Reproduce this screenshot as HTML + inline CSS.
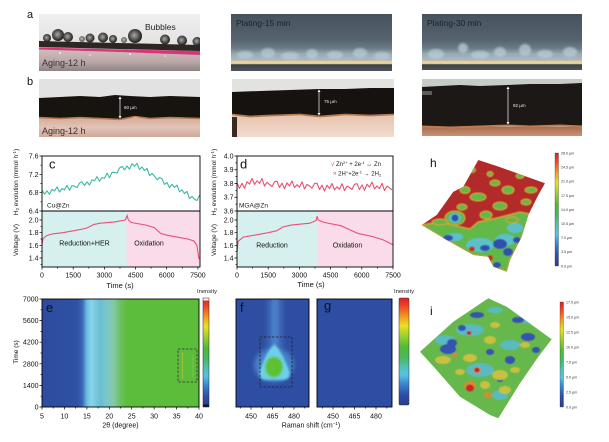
<!DOCTYPE html>
<html><head><meta charset="utf-8"><style>
html,body{margin:0;padding:0;background:#fff;}
svg{display:block;font-family:"Liberation Sans",Arial,sans-serif;}
</style></head><body>
<svg width="609" height="442" viewBox="0 0 609 442" xmlns="http://www.w3.org/2000/svg">
<defs>
 <filter id="b05" x="-30%" y="-30%" width="160%" height="160%"><feGaussianBlur stdDeviation="0.6"/></filter>
 <filter id="b1" x="-30%" y="-30%" width="160%" height="160%"><feGaussianBlur stdDeviation="1.1"/></filter>
 <filter id="b2" x="-50%" y="-50%" width="200%" height="200%"><feGaussianBlur stdDeviation="2.2"/></filter>
 <linearGradient id="jet" x1="0" y1="0" x2="0" y2="1">
  <stop offset="0" stop-color="#d82020"/><stop offset="0.08" stop-color="#f04828"/>
  <stop offset="0.18" stop-color="#f0a020"/><stop offset="0.26" stop-color="#e8e020"/>
  <stop offset="0.36" stop-color="#98d030"/><stop offset="0.46" stop-color="#50b838"/>
  <stop offset="0.56" stop-color="#48b860"/><stop offset="0.64" stop-color="#50c0b0"/>
  <stop offset="0.72" stop-color="#58c0e8"/><stop offset="0.80" stop-color="#3a88d0"/>
  <stop offset="0.90" stop-color="#3050a8"/><stop offset="1" stop-color="#2a3c90"/>
 </linearGradient>
 <linearGradient id="heatE" gradientUnits="userSpaceOnUse" x1="42" y1="0" x2="199" y2="0">
  <stop offset="0" stop-color="#2d4c9f"/><stop offset="0.225" stop-color="#2f50a4"/>
  <stop offset="0.257" stop-color="#3a68b8"/><stop offset="0.286" stop-color="#6bbde0"/>
  <stop offset="0.314" stop-color="#8ad4ea"/><stop offset="0.343" stop-color="#78c8de"/>
  <stop offset="0.371" stop-color="#6cbdd2"/><stop offset="0.414" stop-color="#7ac8c8"/>
  <stop offset="0.457" stop-color="#84c8a4"/><stop offset="0.5" stop-color="#6cc060"/>
  <stop offset="0.543" stop-color="#5cbd3c"/><stop offset="1" stop-color="#5cbd3a"/>
 </linearGradient>
 <radialGradient id="bub" cx="0.45" cy="0.45" r="0.55">
  <stop offset="0" stop-color="#a8a8a8"/><stop offset="0.55" stop-color="#5a5a5a"/><stop offset="1" stop-color="#1c1c1c"/>
 </radialGradient>
 <linearGradient id="ga1" x1="0" y1="0" x2="0" y2="1">
  <stop offset="0" stop-color="#efefef"/><stop offset="1" stop-color="#d8d8d8"/>
 </linearGradient>
 <linearGradient id="ga1b" x1="0" y1="0" x2="0" y2="1">
  <stop offset="0" stop-color="#d4c0c0"/><stop offset="0.6" stop-color="#bca8a8"/><stop offset="1" stop-color="#8e8484"/>
 </linearGradient>
 <linearGradient id="ga2" gradientUnits="userSpaceOnUse" x1="0" y1="14" x2="0" y2="71">
  <stop offset="0" stop-color="#46525e"/><stop offset="0.45" stop-color="#56636e"/>
  <stop offset="0.6" stop-color="#6a7b88"/><stop offset="0.7" stop-color="#98aab4"/>
  <stop offset="0.8" stop-color="#aab8c0"/><stop offset="0.84" stop-color="#e0c890"/>
  <stop offset="0.87" stop-color="#f0d8a0"/><stop offset="0.89" stop-color="#3c4248"/>
  <stop offset="1" stop-color="#4e5660"/>
 </linearGradient>
 <linearGradient id="gb1" x1="0" y1="0" x2="0" y2="1">
  <stop offset="0" stop-color="#d6ac9a"/><stop offset="0.5" stop-color="#e2c4b8"/><stop offset="1" stop-color="#cfa898"/>
 </linearGradient>
 <linearGradient id="gb2" x1="0" y1="0" x2="0" y2="1">
  <stop offset="0" stop-color="#e8c4b0"/><stop offset="1" stop-color="#f2dcd0"/>
 </linearGradient>
 <linearGradient id="gb3" x1="0" y1="0" x2="0" y2="1">
  <stop offset="0" stop-color="#a86c4c"/><stop offset="1" stop-color="#c89274"/>
 </linearGradient>
 <clipPath id="ca1"><rect x="39" y="14" width="161" height="57"/></clipPath>
 <clipPath id="ca2"><rect x="231" y="14" width="161" height="57"/></clipPath>
 <clipPath id="ca3"><rect x="422" y="14" width="160" height="56"/></clipPath>
 <clipPath id="cb1"><rect x="39" y="79" width="161" height="58"/></clipPath>
 <clipPath id="cb2"><rect x="232" y="79" width="162" height="58"/></clipPath>
 <clipPath id="cb3"><rect x="422" y="79" width="160" height="57"/></clipPath>
 <clipPath id="cf"><rect x="236" y="299" width="73" height="108"/></clipPath>
 <clipPath id="ch"><polygon points="478.3,160 496.7,166 545,183.3 538.3,195 528.3,215 521.7,236.7 510,260 506.7,271.7 493.3,266.7 488.3,256.7 473.3,255 446.7,240 421.7,225 436.7,215 453.3,191.7 463.3,186.7"/></clipPath>
 <clipPath id="ci"><polygon points="488.3,298.3 506.7,306.7 551.7,339.3 538.3,356.7 520,383.3 498.3,418.3 490,415 460,396.7 435,368.3 420,351.7 453.3,321.7"/></clipPath>
</defs>

<!-- ========== Panel a ========== -->
<text x="27" y="18" font-size="11" fill="#111">a</text>
<text x="27" y="85" font-size="11" fill="#111">b</text>

<g clip-path="url(#ca1)">
 <rect x="39" y="14" width="161" height="57" fill="url(#ga1)"/>
 <polygon points="39,47 200,51 200,71 39,71" fill="url(#ga1b)"/>
 <polygon points="39,47.5 120,49.5 200,51 200,55 120,52 39,49.5" fill="#d8206e" opacity="0.85"/>
 <polygon points="39,41 200,45 200,51 39,47" fill="#2e2622"/>
 <circle cx="47" cy="38" r="4" fill="url(#bub)"/>
 <circle cx="58" cy="35" r="6" fill="url(#bub)"/>
 <circle cx="68" cy="37" r="5" fill="url(#bub)"/>
 <circle cx="82" cy="39" r="3" fill="url(#bub)" opacity="0.7"/>
 <circle cx="90" cy="38" r="4.5" fill="url(#bub)"/>
 <circle cx="103" cy="37.5" r="5" fill="url(#bub)"/>
 <circle cx="113" cy="39" r="4" fill="url(#bub)"/>
 <circle cx="124" cy="40" r="3" fill="url(#bub)" opacity="0.7"/>
 <circle cx="135" cy="36" r="7" fill="url(#bub)"/>
 <circle cx="165" cy="39.5" r="5" fill="url(#bub)"/>
 <circle cx="182" cy="40.5" r="5" fill="url(#bub)"/>
 <circle cx="197" cy="41.5" r="4.5" fill="url(#bub)"/>
 <g fill="#fff" opacity="0.8"><circle cx="60" cy="53" r="1"/><circle cx="90" cy="55" r="0.8"/><circle cx="130" cy="54" r="1"/><circle cx="165" cy="56" r="0.8"/></g>
 <text x="145" y="30" font-size="8.5" fill="#222">Bubbles</text>
 <text x="42" y="66" font-size="9" fill="#333">Aging-12 h</text>
</g>

<g clip-path="url(#ca2)">
 <rect x="231" y="14" width="161" height="57" fill="url(#ga2)"/>
 <g filter="url(#b1)" fill="#b8ccd8" opacity="0.7">
  <ellipse cx="245" cy="55" rx="8" ry="4"/><ellipse cx="268" cy="53" rx="7" ry="5"/>
  <ellipse cx="290" cy="56" rx="9" ry="4"/><ellipse cx="312" cy="54" rx="6" ry="5"/>
  <ellipse cx="335" cy="55" rx="8" ry="4"/><ellipse cx="360" cy="53" rx="7" ry="5"/>
  <ellipse cx="382" cy="56" rx="8" ry="4"/>
 </g>
 <rect x="231" y="61" width="161" height="2" fill="#ecd09a"/>
 <text x="236" y="26" font-size="8.5" fill="#1e2226">Plating-15 min</text>
</g>

<g clip-path="url(#ca3)">
 <rect x="422" y="14" width="160" height="56" fill="url(#ga2)"/>
 <g filter="url(#b1)" fill="#b8ccd8" opacity="0.75">
  <ellipse cx="436" cy="54" rx="8" ry="5"/><ellipse cx="463" cy="48" rx="5" ry="5"/>
  <ellipse cx="480" cy="55" rx="9" ry="4"/><ellipse cx="500" cy="52" rx="6" ry="5"/>
  <ellipse cx="525" cy="50" rx="6" ry="6"/><ellipse cx="545" cy="54" rx="8" ry="4"/>
  <ellipse cx="570" cy="52" rx="7" ry="5"/>
 </g>
 <rect x="422" y="61" width="160" height="2" fill="#ecd09a"/>
 <text x="427" y="26" font-size="8.5" fill="#1e2226">Plating-30 min</text>
</g>

<!-- ========== Panel b ========== -->
<g clip-path="url(#cb1)">
 <rect x="39" y="79" width="161" height="58" fill="#e2e2e2"/>
 <rect x="39" y="118" width="161" height="19" fill="url(#gb1)"/>
 <polygon points="39,98 60,97 80,96 100,97 115,95 130,96 150,97 170,96 200,97 200,118 170,117 150,118 135,116 120,119 100,118 80,117 60,118 39,117" fill="#17130f"/>
 <polyline points="39,117.5 60,118.5 80,117.5 100,118.5 120,119.5 135,116.5 150,118.5 170,117.5 200,118.5" fill="none" stroke="#b07850" stroke-width="1.6"/>
 <line x1="120" y1="97" x2="120" y2="118" stroke="#fff" stroke-width="0.7"/>
 <polygon points="118.5,99 121.5,99 120,96.5" fill="#fff"/><polygon points="118.5,116 121.5,116 120,118.5" fill="#fff"/>
 <text x="124" y="109" font-size="4.5" fill="#eee">60 µm</text>
 <text x="42" y="134" font-size="9" fill="#3a3030">Aging-12 h</text>
</g>

<g clip-path="url(#cb2)">
 <rect x="232" y="79" width="162" height="58" fill="#e2e2e0"/>
 <rect x="232" y="116" width="162" height="21" fill="url(#gb2)"/>
 <polygon points="232,92 260,91 290,90 319,89 345,89 370,88 394,88 394,114 370,115 345,114 320,116 300,114 270,115 250,116 232,114" fill="#15120f"/>
 <polyline points="232,114.5 250,116.5 270,115.5 300,114.5 320,116.5 345,114.5 370,115.5 394,114.5" fill="none" stroke="#b07850" stroke-width="1.8"/>
 <rect x="232" y="117" width="5" height="20" fill="#3a2a20"/>
 <line x1="319" y1="90" x2="319" y2="115" stroke="#fff" stroke-width="0.7"/>
 <polygon points="317.5,92 320.5,92 319,89.5" fill="#fff"/><polygon points="317.5,113 320.5,113 319,115.5" fill="#fff"/>
 <text x="324" y="103" font-size="4.5" fill="#eee">75 µm</text>
</g>

<g clip-path="url(#cb3)">
 <rect x="422" y="79" width="160" height="57" fill="#c6ccc8"/>
 <rect x="422" y="127" width="160" height="9" fill="url(#gb3)"/>
 <polygon points="422,87 440,86 460,85 480,86 507,85 530,84 560,84 582,83 582,126 560,125 530,126 507,125 480,126 450,127 422,126" fill="#1b1815"/>
 <polyline points="422,126.5 450,127.5 480,126.5 507,125.5 530,126.5 560,125.5 582,126.5" fill="none" stroke="#c07a50" stroke-width="2"/>
 <rect x="422" y="91" width="10" height="4" fill="#888c88" opacity="0.6"/>
 <line x1="508" y1="87" x2="508" y2="124" stroke="#fff" stroke-width="0.7"/>
 <polygon points="506.5,89 509.5,89 508,86.5" fill="#fff"/><polygon points="506.5,122 509.5,122 508,124.5" fill="#fff"/>
 <text x="513" y="107" font-size="4.5" fill="#eee">92 µm</text>
</g>

<!-- ========== Panel c ========== -->
<rect x="42" y="211" width="84.5" height="56" fill="#d5f0ee"/>
<rect x="126.5" y="211" width="73.5" height="56" fill="#fadbe9"/>
<path fill="none" stroke="#3db8a6" stroke-width="1.1" stroke-linejoin="round" d="M42,190.2 L44.5,194.2 47,190.8 49.5,194.3 52,189.4 54.5,190.9 57,186.9 59.5,192 62,188.5 64.5,189.9 67,185.4 69.5,190.3 72,185.7 74.5,186.1 77,187.6 79.5,183 82,181.9 84.5,185.6 87,181.8 89.5,185 92,179.7 94.5,180.9 97,176.6 99.5,181.3 102,177.5 104.5,178.4 107,173.2 109.5,177.6 112,172.4 114.5,172.3 117,173.1 119.5,168 122,166.3 124.5,169.9 127,166 129.5,169.1 132,163.7 134.5,166.3 137,163.3 139.5,169.4 142,167 144.5,170.7 147,168.4 149.5,175.6 152,173.4 154.5,176.1 157,179.8 159.5,177.5 162,178.7 164.5,184.4 167,182.5 169.5,187.7 172,184.3 174.5,187.4 177,185.1 179.5,191.7 182,189.9 184.5,193.6 187,191.4 189.5,198.6 192,196.4 194.5,199.2 197,200.5 199.5,195.2"/>
<polyline fill="none" stroke="#e8507a" stroke-width="1.1" points="42,244.1 43,239 46.2,235.8 52.4,233.9 62.8,232.7 73.2,230.8 83.6,228.9 87.7,227.6 94,224.4 100.2,223.2 114.8,221.9 125.2,220 127.2,215.6 128.3,220 131.4,222.5 146,225.1 154.3,227.6 160.5,233.3 166.7,235.2 177.1,237.1 187.5,239 193.8,240.9 196.9,245.3 199,259.2"/>
<rect x="42" y="156" width="158" height="111" fill="none" stroke="#000" stroke-width="0.9"/>
<line x1="42" y1="211" x2="200" y2="211" stroke="#000" stroke-width="0.9"/>
<g stroke="#000" stroke-width="0.7">
 <path d="M42,156h-2.5M42,174.3h-2.5M42,192.7h-2.5M42,211h-2.5M42,165.2h-1.5M42,183.5h-1.5M42,201.8h-1.5"/>
 <path d="M42,220h-2.5M42,232.7h-2.5M42,245.3h-2.5M42,258h-2.5M42,226.3h-1.5M42,239h-1.5M42,251.7h-1.5M42,264.3h-1.5"/>
 <path d="M42,267v2.5M73.2,267v2.5M104.4,267v2.5M135.6,267v2.5M166.7,267v2.5M197.9,267v2.5M57.6,267v1.5M88.8,267v1.5M120,267v1.5M151.1,267v1.5M182.3,267v1.5"/>
</g>
<g font-size="7" fill="#111" text-anchor="end">
 <text x="38.5" y="158.5">7.6</text><text x="38.5" y="176.8">7.2</text><text x="38.5" y="195.2">6.8</text><text x="38.5" y="213.5">6.4</text>
 <text x="38.5" y="222.5">2.0</text><text x="38.5" y="235.2">1.8</text><text x="38.5" y="247.8">1.6</text><text x="38.5" y="260.5">1.4</text>
</g>
<g font-size="7" fill="#111" text-anchor="middle">
 <text x="42" y="277.5">0</text><text x="73.2" y="277.5">1500</text><text x="104.4" y="277.5">3000</text><text x="135.6" y="277.5">4500</text><text x="166.7" y="277.5">6000</text><text x="197.9" y="277.5">7500</text>
 <text x="120" y="288" font-size="7.5">Time (s)</text>
 <text x="84.5" y="245.5">Reduction+HER</text>
 <text x="149" y="245.5">Oxidation</text>
</g>
<text x="49" y="168.5" font-size="13" fill="#111">c</text>
<text x="47" y="207.5" font-size="6.5" fill="#222">Cu@Zn</text>
<g font-size="6.5" fill="#222" text-anchor="middle">
 <text transform="translate(18,240) rotate(-90)">Voltage (V)</text>
 <text transform="translate(18,182) rotate(-90)">H<tspan font-size="4.5" dy="1">2</tspan><tspan dy="-1"> evolution (mmol h</tspan><tspan font-size="4.5" dy="-2">-1</tspan><tspan dy="2">)</tspan></text>
</g>

<!-- ========== Panel d ========== -->
<rect x="237" y="211" width="80" height="56" fill="#d5f0ee"/>
<rect x="317" y="211" width="76" height="56" fill="#fadbe9"/>
<path fill="none" stroke="#e8506e" stroke-width="1.1" stroke-linejoin="round" d="M237,183 L239.5,188.4 242,183.3 244.5,188.3 247,181.7 249.5,184.1 252,178.5 254.5,184.4 257,180.8 259.5,183.4 262,178.5 264.5,186.1 267,182.3 269.5,184.4 272,186.6 274.5,181.7 277,181.3 279.5,187.5 282,183.1 284.5,188.7 287,182.9 289.5,186 292,181 294.5,187.6 297,184.7 299.5,187.2 302,181.8 304.5,188.9 307,184.4 309.5,186 312,188.2 314.5,183.5 317,183.2 319.5,189.5 322,185.2 324.5,191 327,185.2 329.5,188.5 332,183.5 334.5,189.9 337,186.8 339.5,189.2 342,183.7 344.5,190.6 347,186.1 349.5,187.5 352,189.4 354.5,184.3 357,183.7 359.5,189.5 362,184.9 364.5,190.3 367,184.2 369.5,187 372,182.1 374.5,188.8 377,186 379.5,188.6 382,183.3 384.5,190.5 387,186.1 389.5,187.8 392,189.9"/>
<polyline fill="none" stroke="#e8507a" stroke-width="1.1" points="237,251.7 238,241.5 243.2,237.1 257.8,234.6 268.2,232.7 276.5,230.8 282.8,227 291.1,225.1 309.8,223.2 316,220.6 317.1,216.2 318.1,220 324.4,222.5 341,225.7 349.3,229.5 357.6,233.3 372.2,236.5 382.6,239.6 393,244.7"/>
<rect x="237" y="156" width="156" height="111" fill="none" stroke="#000" stroke-width="0.9"/>
<line x1="237" y1="211" x2="393" y2="211" stroke="#000" stroke-width="0.9"/>
<g stroke="#000" stroke-width="0.7">
 <path d="M237,156h-2.5M237,169.75h-2.5M237,183.5h-2.5M237,197.25h-2.5M237,211h-2.5M237,162.9h-1.5M237,176.6h-1.5M237,190.4h-1.5M237,204.1h-1.5"/>
 <path d="M237,220h-2.5M237,232.7h-2.5M237,245.3h-2.5M237,258h-2.5M237,226.3h-1.5M237,239h-1.5M237,251.7h-1.5M237,264.3h-1.5"/>
 <path d="M237,267v2.5M268.2,267v2.5M299.4,267v2.5M330.6,267v2.5M361.8,267v2.5M393,267v2.5M252.6,267v1.5M283.8,267v1.5M315,267v1.5M346.2,267v1.5M377.4,267v1.5"/>
</g>
<g font-size="7" fill="#111" text-anchor="end">
 <text x="233.5" y="158.5">4.0</text><text x="233.5" y="172.2">3.9</text><text x="233.5" y="186">3.8</text><text x="233.5" y="199.7">3.7</text><text x="233.5" y="213.5">3.6</text>
 <text x="233.5" y="222.5">2.0</text><text x="233.5" y="235.2">1.8</text><text x="233.5" y="247.8">1.6</text><text x="233.5" y="260.5">1.4</text>
</g>
<g font-size="7" fill="#111" text-anchor="middle">
 <text x="237" y="277.5">0</text><text x="268.2" y="277.5">1500</text><text x="299.4" y="277.5">3000</text><text x="330.6" y="277.5">4500</text><text x="361.8" y="277.5">6000</text><text x="393" y="277.5">7500</text>
 <text x="311" y="287" font-size="7.5">Time (s)</text>
 <text x="272" y="247.5">Reduction</text>
 <text x="347.5" y="247.5">Oxidation</text>
</g>
<text x="240" y="168.5" font-size="13" fill="#111">d</text>
<text x="239" y="207.5" font-size="6.5" fill="#222">MGA@Zn</text>
<g font-size="6" fill="#222">
 <text x="331" y="166"><tspan fill="#e0304a">√</tspan> Zn<tspan font-size="4" dy="-2">2+</tspan><tspan dy="2"> + 2e</tspan><tspan font-size="4" dy="-2">-1</tspan><tspan dy="2"> ↔ Zn</tspan></text>
 <text x="333" y="175.5"><tspan fill="#e0304a">×</tspan> 2H<tspan font-size="4" dy="-2">+</tspan><tspan dy="2">+2e</tspan><tspan font-size="4" dy="-2">-1</tspan><tspan dy="2"> → 2H</tspan><tspan font-size="4" dy="1">2</tspan></text>
</g>
<g font-size="6.5" fill="#222" text-anchor="middle">
 <text transform="translate(216,240) rotate(-90)">Voltage (V)</text>
 <text transform="translate(216,182) rotate(-90)">H<tspan font-size="4.5" dy="1">2</tspan><tspan dy="-1"> evolution (mmol h</tspan><tspan font-size="4.5" dy="-2">-1</tspan><tspan dy="2">)</tspan></text>
</g>

<!-- ========== Panel e ========== -->
<rect x="42" y="299" width="157" height="108" fill="url(#heatE)"/>
<line x1="182.5" y1="352" x2="182.5" y2="379" stroke="#d8c040" stroke-width="0.7" opacity="0.8"/>
<line x1="193" y1="355" x2="193" y2="378" stroke="#c8d050" stroke-width="0.5" opacity="0.6"/>
<rect x="178" y="349" width="19" height="33" fill="none" stroke="#333" stroke-width="0.8" stroke-dasharray="2.5,1.5"/>
<rect x="42" y="299" width="157" height="108" fill="none" stroke="#000" stroke-width="0.9"/>
<g stroke="#000" stroke-width="0.7">
 <path d="M42,299h-2.5M42,320.6h-2.5M42,342.2h-2.5M42,363.8h-2.5M42,385.4h-2.5M42,407h-2.5M42,309.8h-1.5M42,331.4h-1.5M42,353h-1.5M42,374.6h-1.5M42,396.2h-1.5"/>
 <path d="M42,407v2.5M64.4,407v2.5M86.9,407v2.5M109.3,407v2.5M131.7,407v2.5M154.1,407v2.5M176.6,407v2.5M199,407v2.5M53.2,407v1.5M75.6,407v1.5M98.1,407v1.5M120.5,407v1.5M142.9,407v1.5M165.4,407v1.5M187.8,407v1.5"/>
</g>
<g font-size="7" fill="#111" text-anchor="end">
 <text x="38.5" y="301.5">7000</text><text x="38.5" y="323.1">5600</text><text x="38.5" y="344.7">4200</text><text x="38.5" y="366.3">2800</text><text x="38.5" y="387.9">1400</text><text x="38.5" y="409.5">0</text>
</g>
<g font-size="7" fill="#111" text-anchor="middle">
 <text x="42" y="418.5">5</text><text x="64.4" y="418.5">10</text><text x="86.9" y="418.5">15</text><text x="109.3" y="418.5">20</text><text x="131.7" y="418.5">25</text><text x="154.1" y="418.5">30</text><text x="176.6" y="418.5">35</text><text x="199" y="418.5">40</text>
 <text x="120.5" y="427.5">2θ (degree)</text>
 <text transform="translate(18,352) rotate(-90)" font-size="6.5">Time (s)</text>
</g>
<text x="46" y="312" font-size="13" fill="#111">e</text>
<rect x="203" y="298" width="6" height="109" fill="url(#jet)" stroke="#222" stroke-width="0.5"/>
<rect x="203.3" y="298.3" width="5.4" height="2.2" fill="#fff"/>
<rect x="203.3" y="404.5" width="5.4" height="2.2" fill="#111"/>
<text x="207" y="293" font-size="5.8" fill="#222" text-anchor="middle">Inensity</text>

<!-- ========== Panel f / g ========== -->
<rect x="236" y="299" width="73" height="108" fill="#2e4ea3"/>
<g clip-path="url(#cf)">
 <rect x="267" y="299" width="16" height="52" fill="#3c68b8" filter="url(#b2)"/>
 <rect x="271.5" y="299" width="7" height="46" fill="#4a7ec6" filter="url(#b1)"/>
 <ellipse cx="274" cy="365" rx="20" ry="17" fill="#4680c8" filter="url(#b2)"/>
 <path d="M274.5,344 Q281,350 289,370 Q292,379 283,380 L266,380 Q257,379 260,370 Q267,350 274.5,344 Z" fill="#6cd0e8" filter="url(#b1)"/>
 <ellipse cx="274" cy="367" rx="8.5" ry="10" fill="#5ec030" filter="url(#b1)"/>
</g>
<rect x="260" y="337" width="32" height="50" fill="none" stroke="#222" stroke-width="0.8" stroke-dasharray="2.5,1.5"/>
<rect x="236" y="299" width="73" height="108" fill="none" stroke="#000" stroke-width="0.9"/>
<rect x="317" y="299" width="75" height="108" fill="#2e4ea3"/>
<rect x="317" y="299" width="75" height="108" fill="none" stroke="#000" stroke-width="0.9"/>
<g stroke="#000" stroke-width="0.7">
 <path d="M251,407v2.5M272.5,407v2.5M294,407v2.5M240.3,407v1.5M261.8,407v1.5M283.3,407v1.5M304.8,407v1.5"/>
 <path d="M333,407v2.5M354.5,407v2.5M376,407v2.5M322.3,407v1.5M343.8,407v1.5M365.3,407v1.5M386.8,407v1.5"/>
</g>
<g font-size="7" fill="#111" text-anchor="middle">
 <text x="251" y="418.5">450</text><text x="272.5" y="418.5">465</text><text x="294" y="418.5">480</text>
 <text x="333" y="418.5">450</text><text x="354.5" y="418.5">465</text><text x="376" y="418.5">480</text>
 <text x="311" y="427.5">Raman shift (cm<tspan font-size="4.5" dy="-2.5">−1</tspan><tspan dy="2.5">)</tspan></text>
</g>
<text x="240" y="312" font-size="13" fill="#111">f</text>
<text x="324" y="310" font-size="13" fill="#111">g</text>
<rect x="399" y="298" width="10" height="107" rx="1" fill="url(#jet)" stroke="#333" stroke-width="0.5"/>
<text x="404" y="293" font-size="5.8" fill="#222" text-anchor="middle">Inensity</text>

<!-- ========== Panel h ========== -->
<text x="430" y="167" font-size="12" fill="#111">h</text>
<g clip-path="url(#ch)">
 <rect x="415" y="155" width="135" height="120" fill="#b22a2a"/>
 <g filter="url(#b05)">
  <polygon points="421,225 440,222 470,229 478,222 497,218 520,212 530,214 522,237 510,260 507,272 493,267 488,257 473,255 447,240" fill="#62b84a" stroke="#d4a030" stroke-width="1.5"/>
  <g fill="#5cc0c8"><ellipse cx="480" cy="245" rx="14" ry="7"/><ellipse cx="505" cy="240" rx="10" ry="6"/><ellipse cx="515" cy="228" rx="8" ry="5"/><ellipse cx="455" cy="237" rx="8" ry="4"/></g>
  <g fill="#3050b0"><ellipse cx="500" cy="244" rx="7" ry="5"/><ellipse cx="508" cy="252" rx="5" ry="4"/><ellipse cx="485" cy="248" rx="5" ry="3"/><ellipse cx="448" cy="238" rx="5" ry="3"/><ellipse cx="497" cy="265" rx="4" ry="3"/><ellipse cx="517" cy="240" rx="4" ry="3"/></g>
  <g fill="#c03028"><ellipse cx="490" cy="258" rx="3" ry="3"/><ellipse cx="472" cy="249" rx="3" ry="2.5"/></g>
  <g fill="#62b84a" stroke="#d4a030" stroke-width="1.2">
   <ellipse cx="455" cy="218" rx="10" ry="7"/><ellipse cx="440" cy="222" rx="8" ry="3"/><ellipse cx="465" cy="190" rx="5" ry="3.5"/><ellipse cx="478" cy="197" rx="8" ry="4"/><ellipse cx="495" cy="183" rx="5" ry="3"/><ellipse cx="508" cy="190" rx="6" ry="4"/><ellipse cx="531" cy="190" rx="6" ry="3"/><ellipse cx="526" cy="202" rx="5" ry="3"/><ellipse cx="500" cy="206" rx="7" ry="4"/><ellipse cx="486" cy="215" rx="6" ry="4"/><ellipse cx="472" cy="170" rx="3.5" ry="2.5"/><ellipse cx="490" cy="174" rx="3" ry="2.5"/><ellipse cx="520" cy="176" rx="4" ry="2.5"/><ellipse cx="462" cy="207" rx="5" ry="3"/><ellipse cx="512" cy="220" rx="6" ry="3"/>
  </g>
  <ellipse cx="455" cy="218" rx="6" ry="5" fill="#5cc0c8"/>
  <ellipse cx="455" cy="218" rx="3.5" ry="3.5" fill="#3050b0"/>
 </g>
</g>
<rect x="555" y="153" width="3.5" height="113" fill="url(#jet)" stroke="#333" stroke-width="0.3"/>
<g font-size="3.6" fill="#333">
 <text x="561" y="154.5">28.0 µm</text><text x="561" y="168.6">24.5 µm</text><text x="561" y="182.7">21.0 µm</text><text x="561" y="196.8">17.5 µm</text><text x="561" y="210.9">14.0 µm</text><text x="561" y="225">10.5 µm</text><text x="561" y="239.1">7.0 µm</text><text x="561" y="253.2">3.5 µm</text><text x="561" y="267.3">0.0 µm</text>
</g>

<!-- ========== Panel i ========== -->
<text x="430" y="315" font-size="12" fill="#111">i</text>
<g clip-path="url(#ci)">
 <rect x="415" y="295" width="140" height="126" fill="#66b84c"/>
 <g filter="url(#b05)">
  <g fill="#5abac0"><ellipse cx="470" cy="330" rx="14" ry="6"/><ellipse cx="480" cy="370" rx="14" ry="7"/><ellipse cx="510" cy="345" rx="10" ry="5"/><ellipse cx="445" cy="340" rx="10" ry="5"/><ellipse cx="530" cy="320" rx="8" ry="4"/><ellipse cx="500" cy="395" rx="8" ry="5"/><ellipse cx="495" cy="310" rx="8" ry="3"/></g>
  <g fill="#3652b0"><ellipse cx="448" cy="349" rx="8" ry="5"/><ellipse cx="452" cy="343" rx="5" ry="4"/><ellipse cx="477" cy="315" rx="7" ry="3"/><ellipse cx="518" cy="320" rx="6" ry="3"/><ellipse cx="528" cy="337" rx="7" ry="4"/><ellipse cx="510" cy="360" rx="5" ry="4"/><ellipse cx="536" cy="350" rx="4" ry="3"/><ellipse cx="462" cy="328" rx="4" ry="3"/><ellipse cx="490" cy="352" rx="4" ry="3"/><ellipse cx="500" cy="380" rx="3" ry="2"/></g>
  <g fill="#c8c040"><ellipse cx="443" cy="360" rx="8" ry="4"/><ellipse cx="470" cy="358" rx="7" ry="4"/><ellipse cx="490" cy="340" rx="6" ry="4"/><ellipse cx="500" cy="375" rx="8" ry="5"/><ellipse cx="505" cy="390" rx="6" ry="4"/><ellipse cx="525" cy="345" rx="5" ry="3"/><ellipse cx="485" cy="385" rx="5" ry="4"/><ellipse cx="460" cy="372" rx="5" ry="3"/><ellipse cx="515" cy="370" rx="5" ry="3"/><ellipse cx="495" cy="325" rx="5" ry="3"/></g>
  <g fill="#d88a30"><ellipse cx="470" cy="386" rx="6" ry="5"/><ellipse cx="477" cy="370" rx="4" ry="3"/><ellipse cx="488" cy="395" rx="4" ry="3"/><ellipse cx="455" cy="355" rx="3" ry="2"/></g>
  <g fill="#c82828"><ellipse cx="470" cy="388" rx="4" ry="3.5"/><ellipse cx="477" cy="370" rx="2.5" ry="2.5"/><ellipse cx="469" cy="333" rx="2.5" ry="2"/></g>
 </g>
</g>
<rect x="560" y="302" width="3.5" height="105" fill="url(#jet)" stroke="#333" stroke-width="0.3"/>
<g font-size="3.6" fill="#333">
 <text x="566" y="303.5">17.5 µm</text><text x="566" y="318.5">15.0 µm</text><text x="566" y="333.5">12.5 µm</text><text x="566" y="348.5">10.0 µm</text><text x="566" y="363.5">7.5 µm</text><text x="566" y="378.5">5.0 µm</text><text x="566" y="393.5">2.5 µm</text><text x="566" y="408.5">0.0 µm</text>
</g>
</svg>
</body></html>
